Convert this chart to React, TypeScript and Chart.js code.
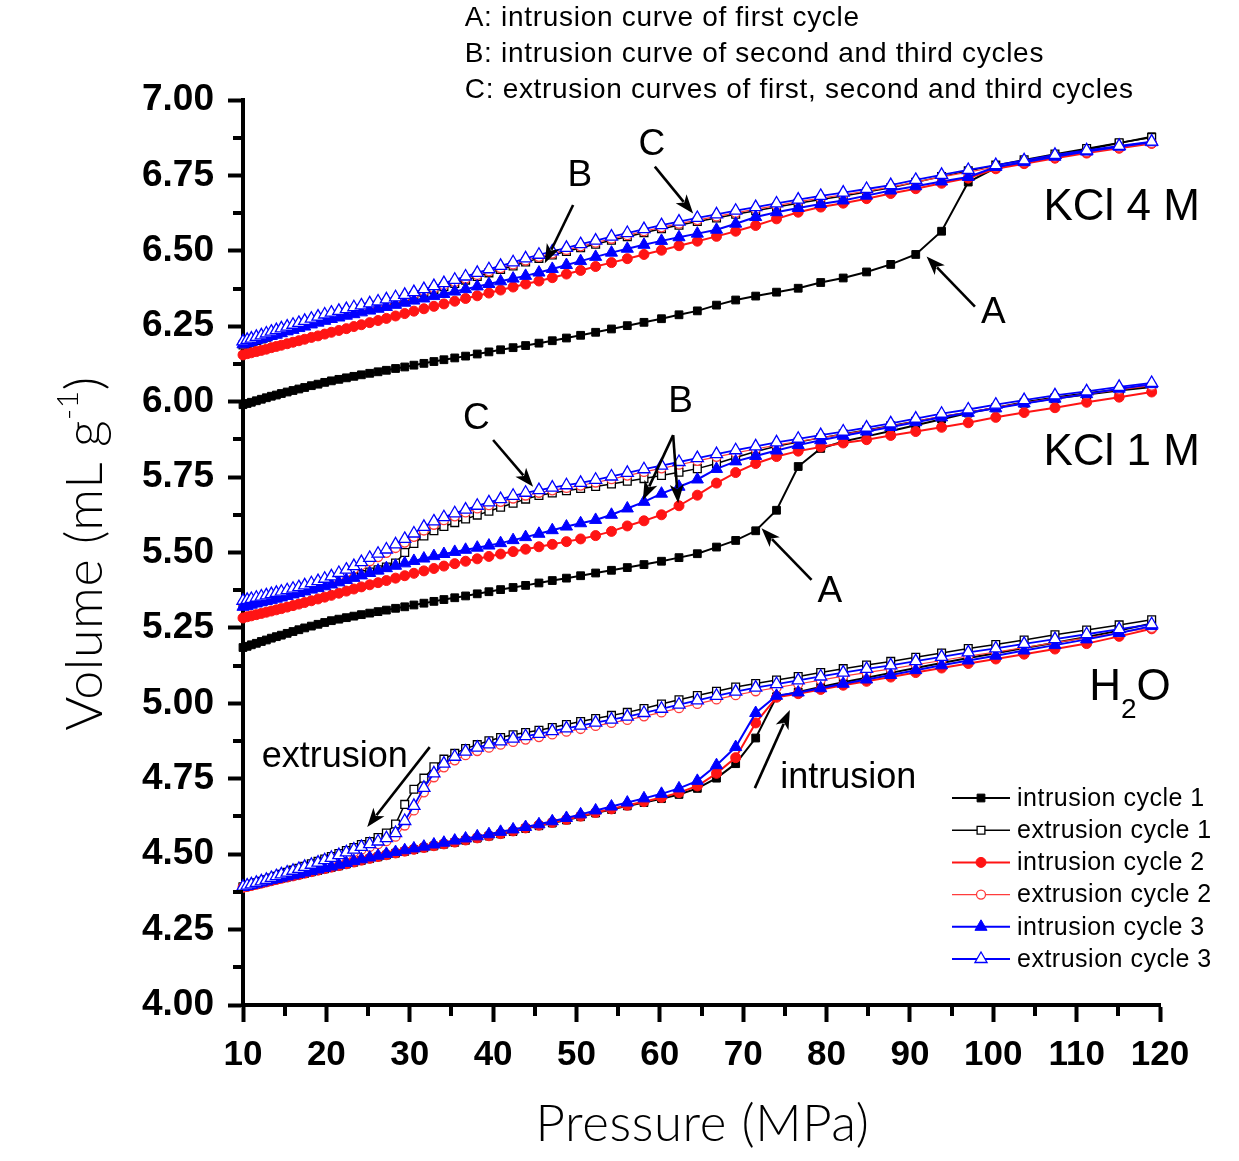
import React, { useEffect, useRef } from 'react';
import { Chart, registerables } from 'chart.js';

Chart.register(...registerables);

// ---------- data ----------
const PRESSURE = [
  10.0, 10.5, 11.0, 11.6, 12.2, 12.8, 13.4, 14.0, 14.6, 15.3,
  16.0, 16.7, 17.4, 18.2, 19.0, 19.8, 20.6, 21.5, 22.4, 23.3,
  24.2, 25.2, 26.2, 27.2, 28.3, 29.4, 30.5, 31.7, 32.9, 34.1,
  35.4, 36.7, 38.1, 39.5, 40.9, 42.4, 43.9, 45.5, 47.1, 48.8,
  50.5, 52.3, 54.2, 56.1, 58.1, 60.2, 62.3, 64.5, 66.8, 69.1,
  71.5, 74.0, 76.6, 79.3, 82.0, 84.8, 87.7, 90.7, 93.8, 97.0,
  100.3, 103.7, 107.4, 111.2, 115.1, 119.0,
];

// H2O
const H2O_INT1 = [
  4.390, 4.393, 4.396, 4.400, 4.404, 4.408, 4.412, 4.416, 4.420, 4.424,
  4.428, 4.432, 4.436, 4.441, 4.446, 4.451, 4.456, 4.461, 4.467, 4.473,
  4.479, 4.485, 4.491, 4.497, 4.503, 4.509, 4.515, 4.521, 4.527, 4.533,
  4.539, 4.546, 4.553, 4.560, 4.567, 4.575, 4.585, 4.594, 4.603, 4.613,
  4.624, 4.636, 4.648, 4.660, 4.671, 4.684, 4.698, 4.718, 4.752, 4.800,
  4.885, 5.022, 5.038, 5.054, 5.070, 5.085, 5.101, 5.117, 5.134, 5.150,
  5.166, 5.183, 5.201, 5.220, 5.241, 5.265,
];
const H2O_EXT1 = [
  4.392, 4.396, 4.400, 4.405, 4.410, 4.415, 4.421, 4.427, 4.433, 4.440,
  4.447, 4.453, 4.460, 4.468, 4.476, 4.484, 4.492, 4.502, 4.512, 4.522,
  4.532, 4.542, 4.555, 4.570, 4.600, 4.665, 4.715, 4.752, 4.790, 4.815,
  4.834, 4.850, 4.863, 4.876, 4.887, 4.896, 4.903, 4.911, 4.920, 4.930,
  4.940, 4.950, 4.960, 4.970, 4.983, 4.998, 5.012, 5.026, 5.040, 5.054,
  5.066, 5.077, 5.089, 5.102, 5.115, 5.127, 5.139, 5.153, 5.167, 5.182,
  5.195, 5.210, 5.227, 5.243, 5.260, 5.277,
];
const H2O_INT2 = [
  4.390, 4.393, 4.396, 4.400, 4.404, 4.408, 4.412, 4.416, 4.420, 4.424,
  4.428, 4.432, 4.437, 4.442, 4.447, 4.452, 4.457, 4.462, 4.468, 4.474,
  4.480, 4.486, 4.492, 4.498, 4.504, 4.510, 4.516, 4.522, 4.528, 4.534,
  4.540, 4.547, 4.554, 4.561, 4.568, 4.577, 4.587, 4.596, 4.605, 4.615,
  4.626, 4.638, 4.650, 4.662, 4.674, 4.688, 4.704, 4.726, 4.768, 4.820,
  4.935, 5.020, 5.032, 5.046, 5.060, 5.073, 5.087, 5.102, 5.117, 5.132,
  5.147, 5.163, 5.180, 5.198, 5.222, 5.247,
];
const H2O_EXT2 = [
  4.390, 4.394, 4.398, 4.402, 4.407, 4.412, 4.417, 4.422, 4.428, 4.434,
  4.440, 4.446, 4.452, 4.459, 4.466, 4.473, 4.481, 4.489, 4.498, 4.507,
  4.515, 4.524, 4.533, 4.543, 4.558, 4.595, 4.645, 4.705, 4.755, 4.788,
  4.811, 4.828, 4.842, 4.853, 4.863, 4.872, 4.880, 4.888, 4.897, 4.906,
  4.915, 4.925, 4.935, 4.945, 4.957, 4.970, 4.984, 4.998, 5.013, 5.027,
  5.040, 5.052, 5.064, 5.077, 5.090, 5.102, 5.114, 5.128, 5.142, 5.157,
  5.170, 5.185, 5.201, 5.217, 5.234, 5.250,
];
const H2O_INT3 = [
  4.392, 4.395, 4.398, 4.402, 4.406, 4.410, 4.414, 4.418, 4.422, 4.426,
  4.430, 4.434, 4.439, 4.444, 4.449, 4.454, 4.459, 4.465, 4.471, 4.477,
  4.483, 4.489, 4.495, 4.501, 4.507, 4.513, 4.519, 4.525, 4.532, 4.538,
  4.545, 4.552, 4.559, 4.566, 4.574, 4.582, 4.590, 4.599, 4.609, 4.620,
  4.632, 4.645, 4.658, 4.671, 4.685, 4.700, 4.718, 4.743, 4.795, 4.855,
  4.968, 5.025, 5.036, 5.050, 5.065, 5.079, 5.094, 5.110, 5.126, 5.142,
  5.158, 5.175, 5.193, 5.212, 5.233, 5.256,
];
const H2O_EXT3 = [
  4.392, 4.396, 4.400, 4.405, 4.410, 4.415, 4.421, 4.427, 4.433, 4.439,
  4.445, 4.451, 4.458, 4.465, 4.472, 4.480, 4.488, 4.497, 4.506, 4.515,
  4.524, 4.533, 4.542, 4.553, 4.570, 4.610, 4.660, 4.720, 4.768, 4.800,
  4.823, 4.840, 4.853, 4.864, 4.874, 4.883, 4.891, 4.899, 4.908, 4.917,
  4.926, 4.936, 4.946, 4.956, 4.968, 4.982, 4.996, 5.010, 5.025, 5.039,
  5.052, 5.064, 5.076, 5.089, 5.102, 5.114, 5.126, 5.140, 5.154, 5.169,
  5.182, 5.197, 5.213, 5.229, 5.246, 5.262,
];

// KCl 1 M
const K1_INT1 = [
  5.185, 5.189, 5.194, 5.199, 5.205, 5.210, 5.216, 5.221, 5.226, 5.232,
  5.238, 5.244, 5.250, 5.256, 5.262, 5.268, 5.274, 5.279, 5.284, 5.289,
  5.294, 5.299, 5.304, 5.309, 5.315, 5.320, 5.326, 5.332, 5.338, 5.344,
  5.350, 5.356, 5.363, 5.370, 5.377, 5.384, 5.391, 5.399, 5.407, 5.415,
  5.423, 5.432, 5.441, 5.450, 5.460, 5.471, 5.483, 5.496, 5.518, 5.540,
  5.572, 5.640, 5.785, 5.845, 5.868, 5.885, 5.903, 5.922, 5.942, 5.962,
  5.980, 5.998, 6.014, 6.028, 6.040, 6.050,
];
const K1_EXT1 = [
  5.325, 5.328, 5.331, 5.335, 5.339, 5.343, 5.347, 5.351, 5.355, 5.360,
  5.365, 5.370, 5.375, 5.381, 5.387, 5.393, 5.399, 5.406, 5.413, 5.420,
  5.427, 5.435, 5.443, 5.452, 5.465, 5.500, 5.530, 5.555, 5.572, 5.586,
  5.599, 5.611, 5.624, 5.637, 5.650, 5.663, 5.677, 5.689, 5.697, 5.705,
  5.712, 5.719, 5.727, 5.736, 5.745, 5.755, 5.766, 5.778, 5.795, 5.815,
  5.835, 5.852, 5.866, 5.880, 5.893, 5.906, 5.920, 5.935, 5.950, 5.965,
  5.980, 5.995, 6.010, 6.023, 6.036, 6.048,
];
const K1_INT2 = [
  5.283, 5.287, 5.290, 5.294, 5.298, 5.302, 5.306, 5.310, 5.314, 5.319,
  5.324, 5.329, 5.334, 5.340, 5.346, 5.352, 5.358, 5.365, 5.372, 5.379,
  5.386, 5.393, 5.400, 5.407, 5.415, 5.423, 5.431, 5.439, 5.447, 5.455,
  5.463, 5.471, 5.479, 5.487, 5.495, 5.503, 5.511, 5.519, 5.527, 5.536,
  5.545, 5.556, 5.570, 5.588, 5.605, 5.625, 5.655, 5.690, 5.730, 5.765,
  5.795, 5.818, 5.836, 5.850, 5.863, 5.874, 5.888, 5.901, 5.915, 5.930,
  5.948, 5.964, 5.980, 5.998, 6.015, 6.032,
];
const K1_EXT2 = [
  5.333, 5.336, 5.339, 5.343, 5.347, 5.351, 5.355, 5.359, 5.363, 5.368,
  5.373, 5.378, 5.384, 5.391, 5.398, 5.405, 5.413, 5.423, 5.434, 5.446,
  5.458, 5.471, 5.485, 5.499, 5.515, 5.533, 5.552, 5.573, 5.592, 5.607,
  5.620, 5.633, 5.646, 5.657, 5.668, 5.679, 5.689, 5.698, 5.706, 5.714,
  5.722, 5.732, 5.743, 5.755, 5.767, 5.779, 5.791, 5.804, 5.817, 5.830,
  5.843, 5.856, 5.868, 5.880, 5.892, 5.905, 5.919, 5.935, 5.951, 5.965,
  5.981, 5.996, 6.012, 6.025, 6.040, 6.053,
];
const K1_INT3 = [
  5.320, 5.323, 5.327, 5.331, 5.335, 5.339, 5.343, 5.347, 5.351, 5.356,
  5.361, 5.366, 5.371, 5.377, 5.382, 5.388, 5.394, 5.401, 5.409, 5.416,
  5.424, 5.432, 5.440, 5.448, 5.456, 5.464, 5.472, 5.480, 5.488, 5.495,
  5.502, 5.509, 5.516, 5.523, 5.531, 5.541, 5.551, 5.562, 5.574, 5.586,
  5.597, 5.608, 5.625, 5.646, 5.668, 5.695, 5.718, 5.742, 5.777, 5.802,
  5.820, 5.838, 5.856, 5.872, 5.887, 5.901, 5.916, 5.932, 5.948, 5.963,
  5.978, 5.994, 6.010, 6.025, 6.043, 6.058,
];
const K1_EXT3 = [
  5.340, 5.343, 5.346, 5.350, 5.354, 5.358, 5.362, 5.366, 5.370, 5.375,
  5.380, 5.385, 5.391, 5.398, 5.405, 5.413, 5.421, 5.432, 5.443, 5.455,
  5.468, 5.482, 5.496, 5.510, 5.527, 5.545, 5.563, 5.585, 5.603, 5.617,
  5.630, 5.642, 5.655, 5.666, 5.677, 5.688, 5.698, 5.707, 5.715, 5.723,
  5.731, 5.741, 5.752, 5.764, 5.776, 5.788, 5.800, 5.813, 5.826, 5.839,
  5.852, 5.865, 5.877, 5.889, 5.901, 5.914, 5.928, 5.944, 5.960, 5.974,
  5.990, 6.005, 6.021, 6.034, 6.049, 6.062,
];

// KCl 4 M
const K4_INT1 = [
  5.990, 5.994, 5.998, 6.003, 6.008, 6.013, 6.018, 6.022, 6.027, 6.032,
  6.037, 6.042, 6.047, 6.053, 6.058, 6.064, 6.069, 6.074, 6.079, 6.084,
  6.089, 6.094, 6.099, 6.104, 6.110, 6.115, 6.121, 6.127, 6.133, 6.139,
  6.145, 6.151, 6.158, 6.165, 6.172, 6.179, 6.186, 6.194, 6.202, 6.211,
  6.220, 6.230, 6.241, 6.252, 6.263, 6.275, 6.288, 6.301, 6.320, 6.337,
  6.350, 6.363, 6.376, 6.395, 6.410, 6.430, 6.455, 6.488, 6.565, 6.728,
  6.775, 6.795, 6.815, 6.836, 6.857, 6.878,
];
const K4_EXT1 = [
  6.188, 6.193, 6.197, 6.203, 6.208, 6.214, 6.220, 6.225, 6.231, 6.237,
  6.243, 6.249, 6.256, 6.263, 6.270, 6.277, 6.283, 6.289, 6.295, 6.301,
  6.307, 6.314, 6.320, 6.327, 6.334, 6.342, 6.351, 6.361, 6.371, 6.381,
  6.392, 6.403, 6.415, 6.427, 6.438, 6.450, 6.463, 6.475, 6.486, 6.498,
  6.510, 6.522, 6.535, 6.547, 6.560, 6.573, 6.585, 6.597, 6.609, 6.621,
  6.633, 6.645, 6.658, 6.670, 6.682, 6.695, 6.709, 6.727, 6.746, 6.765,
  6.784, 6.802, 6.821, 6.839, 6.858, 6.876,
];
const K4_INT2 = [
  6.155, 6.159, 6.162, 6.166, 6.170, 6.174, 6.179, 6.183, 6.187, 6.192,
  6.197, 6.202, 6.207, 6.213, 6.218, 6.224, 6.230, 6.236, 6.242, 6.249,
  6.255, 6.262, 6.269, 6.276, 6.284, 6.292, 6.300, 6.308, 6.316, 6.324,
  6.333, 6.342, 6.351, 6.360, 6.370, 6.380, 6.390, 6.400, 6.411, 6.423,
  6.435, 6.448, 6.461, 6.474, 6.488, 6.502, 6.517, 6.532, 6.548, 6.565,
  6.584, 6.606, 6.628, 6.645, 6.658, 6.673, 6.690, 6.706, 6.724, 6.741,
  6.772, 6.789, 6.807, 6.824, 6.840, 6.856,
];
const K4_EXT2 = [
  6.193, 6.198, 6.202, 6.208, 6.213, 6.219, 6.225, 6.230, 6.236, 6.242,
  6.248, 6.254, 6.261, 6.268, 6.275, 6.282, 6.288, 6.294, 6.300, 6.306,
  6.312, 6.319, 6.325, 6.332, 6.339, 6.347, 6.356, 6.366, 6.376, 6.386,
  6.397, 6.408, 6.420, 6.432, 6.443, 6.455, 6.468, 6.480, 6.491, 6.503,
  6.515, 6.527, 6.540, 6.552, 6.565, 6.578, 6.590, 6.602, 6.614, 6.626,
  6.638, 6.650, 6.663, 6.675, 6.686, 6.698, 6.711, 6.728, 6.745, 6.761,
  6.778, 6.794, 6.812, 6.827, 6.843, 6.857,
];
const K4_INT3 = [
  6.190, 6.194, 6.198, 6.203, 6.208, 6.213, 6.218, 6.222, 6.227, 6.233,
  6.238, 6.244, 6.249, 6.256, 6.262, 6.268, 6.274, 6.279, 6.285, 6.290,
  6.296, 6.302, 6.308, 6.314, 6.321, 6.328, 6.335, 6.342, 6.350, 6.357,
  6.365, 6.373, 6.382, 6.390, 6.399, 6.408, 6.417, 6.428, 6.440, 6.453,
  6.466, 6.480, 6.494, 6.507, 6.520, 6.533, 6.545, 6.557, 6.570, 6.590,
  6.612, 6.628, 6.642, 6.655, 6.667, 6.683, 6.700, 6.714, 6.730, 6.745,
  6.778, 6.794, 6.812, 6.829, 6.845, 6.860,
];
const K4_EXT3 = [
  6.200, 6.205, 6.209, 6.215, 6.220, 6.226, 6.232, 6.237, 6.243, 6.249,
  6.255, 6.261, 6.268, 6.275, 6.282, 6.289, 6.295, 6.301, 6.307, 6.313,
  6.319, 6.326, 6.332, 6.339, 6.346, 6.354, 6.363, 6.373, 6.383, 6.393,
  6.404, 6.415, 6.427, 6.439, 6.450, 6.462, 6.475, 6.487, 6.498, 6.510,
  6.522, 6.534, 6.547, 6.559, 6.572, 6.585, 6.597, 6.609, 6.621, 6.633,
  6.645, 6.657, 6.670, 6.682, 6.693, 6.705, 6.718, 6.735, 6.752, 6.768,
  6.784, 6.800, 6.818, 6.833, 6.848, 6.862,
];

const SERIES_LABELS = [
  'intrusion cycle 1',
  'extrusion cycle 1',
  'intrusion cycle 2',
  'extrusion cycle 2',
  'intrusion cycle 3',
  'extrusion cycle 3',
];

const GROUPS = [
  { name: 'H2O', series: [H2O_INT1, H2O_EXT1, H2O_INT2, H2O_EXT2, H2O_INT3, H2O_EXT3] },
  { name: 'KCl 1 M', series: [K1_INT1, K1_EXT1, K1_INT2, K1_EXT2, K1_INT3, K1_EXT3] },
  { name: 'KCl 4 M', series: [K4_INT1, K4_EXT1, K4_INT2, K4_EXT2, K4_INT3, K4_EXT3] },
];

const HEADER_LINES = [
  'A: intrusion curve of first cycle',
  'B: intrusion curve of second and third cycles',
  'C: extrusion curves of first, second and third cycles',
];

// ---------- styles ----------
const SANS = '"Liberation Sans", Arial, sans-serif';
const TITLE_FONT = 'Lato, "Open Sans", sans-serif';

const SERIES_STYLE = [
  { color: '#000000', point: 'rect', radius: 5.5, filled: true, lineWidth: 2 },
  { color: '#000000', point: 'rect', radius: 5.5, filled: false, lineWidth: 1.5 },
  { color: '#ff1414', point: 'circle', radius: 5, filled: true, lineWidth: 2 },
  { color: '#ff3c3c', point: 'circle', radius: 4.5, filled: false, lineWidth: 1.2 },
  { color: '#0000ff', point: 'triangle', radius: 7, filled: true, lineWidth: 2 },
  { color: '#0000ff', point: 'triangle', radius: 7, filled: false, lineWidth: 1.8 },
];

// annotation positions in data coordinates (pressure, volume)
const LETTERS: [string, number, number][] = [
  ['C', 59.06, 6.851],
  ['B', 50.4, 6.748],
  ['A', 100.0, 6.296],
  ['C', 38.0, 5.943],
  ['B', 62.5, 5.999],
  ['A', 80.4, 5.370],
];
const ARROWS: [number, number, number, number][] = [
  [59.4, 6.779, 64.0, 6.624],
  [49.6, 6.652, 46.2, 6.459],
  [97.8, 6.315, 92.0, 6.481],
  [40.0, 5.873, 44.8, 5.718],
  [61.6, 5.889, 57.97, 5.674],
  [61.6, 5.889, 62.2, 5.663],
  [78.2, 5.409, 72.2, 5.580],
  [32.4, 4.855, 24.9, 4.590],
  [71.4, 4.719, 75.6, 4.978],
];
const SAMPLE_LABELS: [string, number, number][] = [
  ['KCl 4 M', 115.4, 6.642],
  ['KCl 1 M', 115.4, 5.830],
];
const WORD_LABELS: [string, number, number][] = [
  ['extrusion', 21.0, 4.822],
  ['intrusion', 82.6, 4.752],
];

const CANVAS_W = 1239;
const CANVAS_H = 1161;

function drawMarker(ctx: CanvasRenderingContext2D, style: any, x: number, y: number) {
  ctx.save();
  ctx.beginPath();
  const r = style.radius;
  if (style.point === 'rect') {
    const s = r * Math.SQRT1_2;
    ctx.rect(x - s, y - s, 2 * s, 2 * s);
  } else if (style.point === 'circle') {
    ctx.arc(x, y, r, 0, Math.PI * 2);
  } else {
    for (let i = 0; i < 3; i++) {
      const a = (i * 2 * Math.PI) / 3;
      const px = x + Math.sin(a) * r;
      const py = y - Math.cos(a) * r;
      if (i === 0) ctx.moveTo(px, py);
      else ctx.lineTo(px, py);
    }
    ctx.closePath();
  }
  ctx.fillStyle = style.filled ? style.color : '#ffffff';
  ctx.fill();
  ctx.lineWidth = style.filled ? 1 : 1.3;
  ctx.strokeStyle = style.color;
  ctx.stroke();
  ctx.restore();
}

function drawArrow(ctx: CanvasRenderingContext2D, x1: number, y1: number, x2: number, y2: number) {
  const ang = Math.atan2(y2 - y1, x2 - x1);
  const headLen = 19;
  const headHalf = 7;
  const bx = x2 - Math.cos(ang) * headLen;
  const by = y2 - Math.sin(ang) * headLen;
  ctx.save();
  ctx.strokeStyle = '#000';
  ctx.fillStyle = '#000';
  ctx.lineWidth = 2.6;
  ctx.beginPath();
  ctx.moveTo(x1, y1);
  ctx.lineTo(bx + Math.cos(ang) * 4, by + Math.sin(ang) * 4);
  ctx.stroke();
  ctx.beginPath();
  ctx.moveTo(x2, y2);
  ctx.lineTo(bx + Math.cos(ang + Math.PI / 2) * headHalf, by + Math.sin(ang + Math.PI / 2) * headHalf);
  ctx.lineTo(bx + Math.cos(ang) * 5, by + Math.sin(ang) * 5);
  ctx.lineTo(bx - Math.cos(ang + Math.PI / 2) * headHalf, by - Math.sin(ang + Math.PI / 2) * headHalf);
  ctx.closePath();
  ctx.fill();
  ctx.restore();
}

function setSpacing(ctx: any, v: string) {
  if ('letterSpacing' in ctx) ctx.letterSpacing = v;
}

const decorPlugin = {
  id: 'decor',
  afterDraw(chart: any) {
    const ctx: CanvasRenderingContext2D = chart.ctx;
    const xs = chart.scales.x;
    const ys = chart.scales.y;
    const area = chart.chartArea;
    const px = (p: number) => xs.getPixelForValue(p);
    const py = (v: number) => ys.getPixelForValue(v);

    ctx.save();
    // minor ticks
    ctx.strokeStyle = '#000';
    ctx.lineWidth = 4;
    const xt = xs.ticks.map((t: any) => t.value);
    for (let i = 0; i < xt.length - 1; i++) {
      const x = Math.round(px((xt[i] + xt[i + 1]) / 2));
      ctx.beginPath();
      ctx.moveTo(x, area.bottom);
      ctx.lineTo(x, area.bottom + 11);
      ctx.stroke();
    }
    const yt = ys.ticks.map((t: any) => t.value);
    for (let i = 0; i < yt.length - 1; i++) {
      const y = Math.round(py((yt[i] + yt[i + 1]) / 2));
      ctx.beginPath();
      ctx.moveTo(area.left, y);
      ctx.lineTo(area.left - 10, y);
      ctx.stroke();
    }

    ctx.fillStyle = '#000';
    ctx.textBaseline = 'middle';

    // header lines
    ctx.font = `28px ${SANS}`;
    setSpacing(ctx, '0.7px');
    ctx.textAlign = 'left';
    const headerY = [7.272, 7.153, 7.031];
    HEADER_LINES.forEach((t, i) => ctx.fillText(t, px(36.6), py(headerY[i])));
    setSpacing(ctx, '0px');

    // letters
    ctx.font = `37px ${SANS}`;
    ctx.textAlign = 'center';
    LETTERS.forEach(([t, p, v]) => ctx.fillText(t, px(p), py(v)));

    // arrows
    ARROWS.forEach(([p1, v1, p2, v2]) => drawArrow(ctx, px(p1), py(v1), px(p2), py(v2)));

    // sample labels
    ctx.font = `44px ${SANS}`;
    SAMPLE_LABELS.forEach(([t, p, v]) => ctx.fillText(t, px(p), py(v)));

    // H2O with subscript
    {
      const cx = px(116.4);
      const cy = py(5.051);
      ctx.font = `44px ${SANS}`;
      const wH = ctx.measureText('H').width;
      const wO = ctx.measureText('O').width;
      ctx.font = `28px ${SANS}`;
      const w2 = ctx.measureText('2').width;
      const x0 = cx - (wH + w2 + wO) / 2;
      ctx.textAlign = 'left';
      ctx.font = `44px ${SANS}`;
      ctx.fillText('H', x0, cy);
      ctx.fillText('O', x0 + wH + w2, cy);
      ctx.font = `28px ${SANS}`;
      ctx.fillText('2', x0 + wH, cy + 22);
    }

    // words
    ctx.font = `36px ${SANS}`;
    ctx.textAlign = 'center';
    WORD_LABELS.forEach(([t, p, v]) => ctx.fillText(t, px(p), py(v)));

    // legend
    const lx = area.right - 208;
    const ly0 = area.bottom - 207;
    const step = 32.2;
    SERIES_LABELS.forEach((lab, i) => {
      const st = SERIES_STYLE[i];
      const y = ly0 + i * step;
      ctx.save();
      ctx.strokeStyle = st.color;
      ctx.lineWidth = st.lineWidth;
      ctx.beginPath();
      ctx.moveTo(lx, y);
      ctx.lineTo(lx + 58, y);
      ctx.stroke();
      ctx.restore();
      drawMarker(ctx, st, lx + 29, y);
      ctx.fillStyle = '#000';
      ctx.font = `25px ${SANS}`;
      setSpacing(ctx, '0.5px');
      ctx.textAlign = 'left';
      ctx.textBaseline = 'middle';
      ctx.fillText(lab, lx + 65, y + 1);
      setSpacing(ctx, '0px');
    });

    // axis titles
    ctx.font = `300 51px ${TITLE_FONT}`;
    setSpacing(ctx, '0.6px');
    ctx.textAlign = 'center';
    ctx.fillText('Pressure (MPa)', (area.left + area.right) / 2 + 1, area.bottom + 120);

    ctx.save();
    ctx.translate(area.left - 158, (area.top + area.bottom) / 2 + 1);
    ctx.rotate(-Math.PI / 2);
    ctx.textAlign = 'left';
    const main = 'Volume (mL g';
    const sup = '-1';
    const end = ')';
    ctx.font = `300 52px ${TITLE_FONT}`;
    const wm = ctx.measureText(main).width;
    const we = ctx.measureText(end).width;
    ctx.font = `300 30px ${TITLE_FONT}`;
    const ws = ctx.measureText(sup).width;
    const start = -(wm + ws + we) / 2;
    ctx.font = `300 52px ${TITLE_FONT}`;
    ctx.fillText(main, start, 0);
    ctx.fillText(end, start + wm + ws, 0);
    ctx.font = `300 30px ${TITLE_FONT}`;
    ctx.fillText(sup, start + wm, -17);
    ctx.restore();
    setSpacing(ctx, '0px');

    ctx.restore();
  },
};

export default function App() {
  const canvasRef = useRef<HTMLCanvasElement | null>(null);

  useEffect(() => {
    if (!canvasRef.current) return;
    const datasets: any[] = [];
    GROUPS.forEach((g) => {
      g.series.forEach((vals, k) => {
        const st = SERIES_STYLE[k];
        datasets.push({
          label: `${SERIES_LABELS[k]} (${g.name})`,
          data: PRESSURE.map((p, i) => ({ x: p, y: vals[i] })),
          borderColor: st.color,
          backgroundColor: st.color,
          borderWidth: st.lineWidth,
          pointStyle: st.point,
          pointRadius: st.radius,
          pointHoverRadius: st.radius,
          pointBackgroundColor: st.filled ? st.color : '#ffffff',
          pointBorderColor: st.color,
          pointBorderWidth: st.filled ? 1 : 1.3,
          tension: 0,
          fill: false,
          clip: false,
          order: 5 - k,
        });
      });
    });

    const chart = new Chart(canvasRef.current, {
      type: 'line',
      data: { datasets },
      options: {
        animation: false,
        responsive: false,
        layout: { padding: { left: 0, right: CANVAS_W - 1160, top: 100, bottom: 0 } },
        plugins: {
          legend: { display: false },
          tooltip: { enabled: false },
        },
        scales: {
          x: {
            type: 'linear',
            min: 10,
            max: 120,
            ticks: {
              stepSize: 10,
              color: '#000',
              font: { family: SANS, size: 35, weight: 'bold' },
              padding: 12,
              maxRotation: 0,
              autoSkip: false,
            },
            grid: {
              drawOnChartArea: false,
              drawTicks: true,
              tickLength: 17,
              tickWidth: 4,
              tickColor: '#000',
            },
            border: { display: true, color: '#000', width: 4 },
            afterFit: (s: any) => {
              s.height = CANVAS_H - 1005;
            },
          },
          y: {
            type: 'linear',
            min: 4,
            max: 7,
            ticks: {
              stepSize: 0.25,
              color: '#000',
              font: { family: SANS, size: 37, weight: 'bold' },
              padding: 14,
              callback: (v: any) => Number(v).toFixed(2),
            },
            grid: {
              drawOnChartArea: false,
              drawTicks: true,
              tickLength: 15,
              tickWidth: 4,
              tickColor: '#000',
            },
            border: { display: true, color: '#000', width: 4 },
            afterFit: (s: any) => {
              s.width = 243;
            },
          },
        },
      } as any,
      plugins: [decorPlugin],
    });
    return () => chart.destroy();
  }, []);

  return (
    <div
      style={{
        position: 'fixed',
        left: 0,
        top: 0,
        width: CANVAS_W,
        height: CANVAS_H,
        background: '#ffffff',
      }}
    >
      <canvas ref={canvasRef} width={CANVAS_W} height={CANVAS_H} style={{ display: 'block' }} />
    </div>
  );
}
